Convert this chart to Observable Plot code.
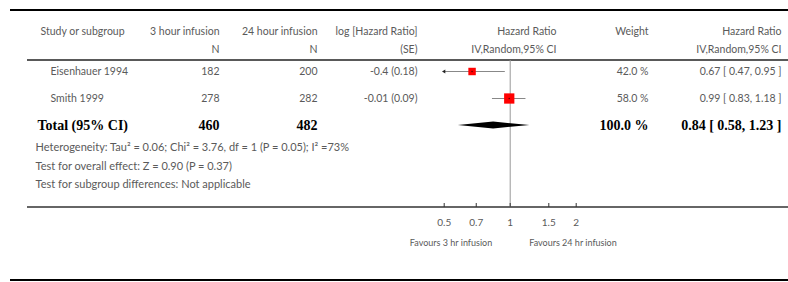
<!DOCTYPE html>
<html><head><meta charset="utf-8">
<script src="https://cdn.jsdelivr.net/npm/d3@7"></script>
<script src="https://cdn.jsdelivr.net/npm/@observablehq/plot@0.6"></script>
<style>body{margin:0;background:#fff}</style>
</head><body><div id="chart"></div>
<script>
// ---- data ----
const studies = ["Eisenhauer 1994", "Smith 1999"];
const n3 = [182, 278];
const n24 = [200, 282];
const logHR = ["-0.4 (0.18)", "-0.01 (0.09)"];
const hr = [0.67, 0.99];
const hrLo = [0.47, 0.83];
const hrHi = [0.95, 1.18];
const weight = [42.0, 58.0];
const totalLabel = "Total (95% CI)";
const totalN3 = 460, totalN24 = 482;
const totalHR = 0.84, totalLo = 0.58, totalHi = 1.23, totalWeight = 100.0;
const headerTop = ["3 hour infusion", "24 hour infusion", "log [Hazard Ratio]", "Hazard Ratio", "Weight", "Hazard Ratio"];
const headerBottom = ["N", "N", "(SE)", "IV,Random,95% CI", "", "IV,Random,95% CI"];
const studyHeader = "Study or subgroup";
const footnotes = [
  "Heterogeneity: Tau\u00B2 = 0.06; Chi\u00B2 = 3.76, df = 1 (P = 0.05); I\u00B2 =73%",
  "Test for overall effect: Z = 0.90 (P = 0.37)",
  "Test for subgroup differences: Not applicable"
];
const tickValues = [0.5, 0.7, 1, 1.5, 2];
const favoursLeft = "Favours 3 hr infusion";
const favoursRight = "Favours 24 hr infusion";

// ---- layout ----
const W = 788, H = 282;
const colRight = [219, 317, 417, 556, 648, 781];
const studyHeaderX = 40, studyRowX = 50, totalX = 37, footX = 35;
const headY = [31, 49];
const footY = [147, 166, 184];
const FONT = "Lato, 'Open Sans', sans-serif";
const SERIF = "'Liberation Serif', serif";
const GREY = "#5a5a5a";
const FS = 10.5;

const fmtCI = (e, l, h) => `${e.toFixed(2)} [ ${l.toFixed(2)}, ${h.toFixed(2)} ]`;
const rows = studies.map((s, i) => ({
  study: s, n3: n3[i], n24: n24[i], log: logHR[i], hr: hr[i], lo: hrLo[i], hi: hrHi[i], weight: weight[i],
  wtext: weight[i].toFixed(1) + " %", ci: fmtCI(hr[i], hrLo[i], hrHi[i])
}));
const totalRow = [{study: totalLabel, n3: totalN3, n24: totalN24, wtext: totalWeight.toFixed(1) + " %",
  ci: fmtCI(totalHR, totalLo, totalHi), hr: totalHR, lo: totalLo, hi: totalHi}];

function tableRules() {
  const g = d3.create("svg:g");
  [[10, 10, 2, "#000"], [27, 60, 1.5, "#222"], [27, 207, 1.5, "#333"], [10, 280, 2, "#000"]]
    .forEach(([x0, y, w, c]) => g.append("line").attr("x1", x0).attr("x2", W)
      .attr("y1", y).attr("y2", y).attr("stroke", c).attr("stroke-width", w));
  return g.node();
}
function diamond(index, scales) {
  const y = scales.y(totalLabel), h = 3.5;
  const pts = [[scales.x(totalLo), y], [scales.x(totalHR), y - h], [scales.x(totalHi), y], [scales.x(totalHR), y + h]];
  return d3.create("svg:polygon").attr("points", pts.map(p => p.join(",")).join(" ")).attr("fill", "#000").node();
}

const txt = (data, o) => Plot.text(data, {lineAnchor: "middle", fill: GREY, fontSize: FS, ...o});
const bold = (field, dx, anchor) => Plot.text(totalRow, {y: "study", text: field, frameAnchor: "left", dx, textAnchor: anchor,
  lineAnchor: "middle", fill: "#000", fontSize: 14, fontWeight: "bold", fontFamily: SERIF});

const marks = [
  tableRules,
  Plot.ruleX([1], {stroke: "#999", strokeWidth: 1, insetTop: 60}),
  Plot.ruleX(tickValues, {stroke: "#333", insetTop: 203}),
  Plot.axisX({ticks: tickValues, tickSize: 0, tickPadding: 11, tickFormat: d => String(d), fontSize: 10, color: GREY, label: null}),
  Plot.ruleY(rows, {y: "study", x1: "lo", x2: "hi", stroke: "#888", strokeWidth: 1.2}),
  Plot.dot(rows.filter(d => d.lo < tickValues[0]), {x: "lo", y: "study", symbol: "triangle", rotate: -90, r: 1.4, fill: "#222", stroke: null}),
  Plot.dot(rows, {x: "hr", y: "study", r: "weight", symbol: "square", fill: "#ff0000", stroke: null}),
  Plot.dot(rows, {x: "hr", y: "study", r: 0.8, fill: "#600", stroke: null}),
  diamond,
  // header
  txt([studyHeader], {text: d => d, frameAnchor: "top-left", dx: studyHeaderX, dy: headY[0], textAnchor: "start"}),
  ...headerTop.map((t, i) => txt([t], {text: d => d, frameAnchor: "top-left", dx: colRight[i], dy: headY[0], textAnchor: "end"})),
  ...headerBottom.map((t, i) => txt([t], {text: d => d, frameAnchor: "top-left", dx: colRight[i], dy: headY[1], textAnchor: "end"})),
  // study rows
  txt(rows, {y: "study", text: "study", frameAnchor: "left", dx: studyRowX, textAnchor: "start"}),
  txt(rows, {y: "study", text: "n3", frameAnchor: "left", dx: colRight[0], textAnchor: "end"}),
  txt(rows, {y: "study", text: "n24", frameAnchor: "left", dx: colRight[1], textAnchor: "end"}),
  txt(rows, {y: "study", text: "log", frameAnchor: "left", dx: colRight[2], textAnchor: "end"}),
  txt(rows, {y: "study", text: "wtext", frameAnchor: "left", dx: colRight[4], textAnchor: "end"}),
  txt(rows, {y: "study", text: "ci", frameAnchor: "left", dx: colRight[5], textAnchor: "end"}),
  // total row
  bold("study", totalX, "start"),
  bold("n3", colRight[0], "end"),
  bold("n24", colRight[1], "end"),
  bold("wtext", colRight[4], "end"),
  bold("ci", colRight[5], "end"),
  // footnotes
  ...footnotes.map((t, i) => txt([t], {text: d => d, frameAnchor: "top-left", dx: footX, dy: footY[i], textAnchor: "start", fontSize: 11})),
  // favours
  txt([favoursLeft], {text: d => d, x: () => 1, frameAnchor: "bottom", dy: 36, dx: -18, textAnchor: "end", fontSize: 9}),
  txt([favoursRight], {text: d => d, x: () => 1, frameAnchor: "bottom", dy: 36, dx: 19, textAnchor: "start", fontSize: 9})
];

const chart = Plot.plot({
  width: W, height: H,
  marginTop: 0, marginRight: 0, marginBottom: 75, marginLeft: 0,
  style: {fontFamily: FONT, background: "#fff"},
  x: {type: "log", domain: [0.5, 2], range: [443.7, 575.7], clamp: true},
  y: {type: "point", domain: [...studies, totalLabel], range: [70.5, 124.5], padding: 0, axis: null},
  r: {type: "linear", domain: [0, 58], range: [0, 5.8]},
  marks
});
document.getElementById("chart").appendChild(chart);
</script>
</body></html>
